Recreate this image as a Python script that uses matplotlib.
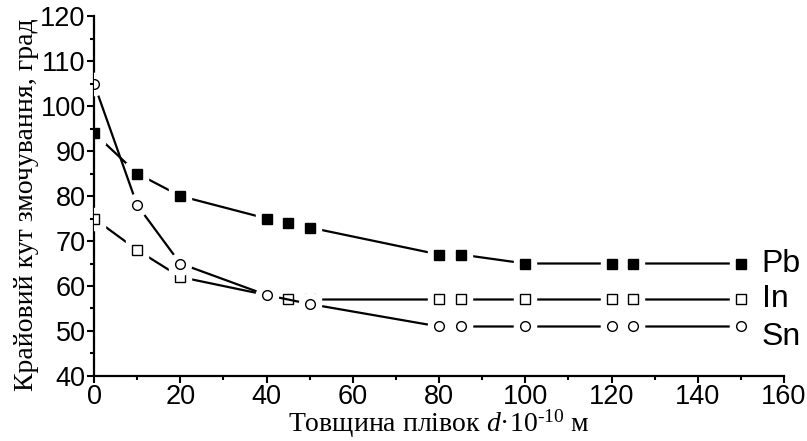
import matplotlib.pyplot as plt
from matplotlib.ticker import MultipleLocator

plt.rcParams["mathtext.fontset"] = "custom"
plt.rcParams["mathtext.it"] = "Liberation Serif:italic"
plt.rcParams["mathtext.rm"] = "Liberation Serif"

# thickness d (x 10^-10 m) and contact angle (deg)
pb_x = [0, 10, 20, 40, 45, 50, 80, 85, 100, 120, 125, 150]
pb_y = [94, 85, 80, 75, 74, 73, 67, 67, 65, 65, 65, 65]

in_x = [0, 10, 20, 40, 45, 50, 80, 85, 100, 120, 125, 150]
in_y = [75, 68, 62, 58, 57, 57, 57, 57, 57, 57, 57, 57]

sn_x = [0, 10, 20, 40, 50, 80, 85, 100, 120, 125, 150]
sn_y = [105, 78, 65, 58, 56, 51, 51, 51, 51, 51, 51]

series = [
    ("Pb", pb_x, pb_y, "s", "black"),
    ("In", in_x, in_y, "s", "white"),
    ("Sn", sn_x, sn_y, "o", "white"),
]

fig = plt.figure(figsize=(8.07, 4.41), dpi=100)
ax = fig.add_axes([0.1165, 0.1474, 0.855, 0.8163])

z = 2
for name, xs, ys, mk, fc in series:
    ax.plot(xs, ys, color="black", lw=1.6, zorder=z)
    # white halo so the line stops short of each marker
    ax.plot(xs, ys, ls="none", marker=mk, ms=16, mfc="white", mec="white", zorder=z + 0.1)
    ax.plot(xs, ys, ls="none", marker=mk, ms=7, mfc=fc, mec="black", mew=1.0, zorder=z + 0.2)
    z += 1

label_y = {"Pb": 65, "In": 57, "Sn": 48.7}
for name, xs, ys, mk, fc in series:
    ax.text(154.8, label_y[name], name, fontsize=23, family="Liberation Sans",
            va="center", ha="left", clip_on=False)

ax.set_xlim(0, 160)
ax.set_ylim(40, 120)
ax.xaxis.set_major_locator(MultipleLocator(20))
ax.xaxis.set_minor_locator(MultipleLocator(10))
ax.yaxis.set_major_locator(MultipleLocator(10))
ax.yaxis.set_minor_locator(MultipleLocator(5))

for s in ["top", "right"]:
    ax.spines[s].set_visible(False)
for s in ["left", "bottom"]:
    ax.spines[s].set_linewidth(1.6)

ax.tick_params(which="major", direction="out", length=5, width=1.5, labelsize=19.5, pad=1)
ax.tick_params(which="minor", direction="out", length=3, width=1.5)
for lab in ax.get_xticklabels() + ax.get_yticklabels():
    lab.set_family("Liberation Sans")

ax.set_ylabel("Крайовий кут змочування, град", fontsize=20, family="Liberation Serif")
ax.yaxis.set_label_coords(-0.08, 0.475)
ax.set_xlabel("Товщина плівок $\\mathit{d}$·10$^{\\mathregular{\u201010}}$ м", fontsize=20,
              family="Liberation Serif")
ax.xaxis.set_label_coords(0.5, -0.088)

fig.savefig("out.png", dpi=100)
